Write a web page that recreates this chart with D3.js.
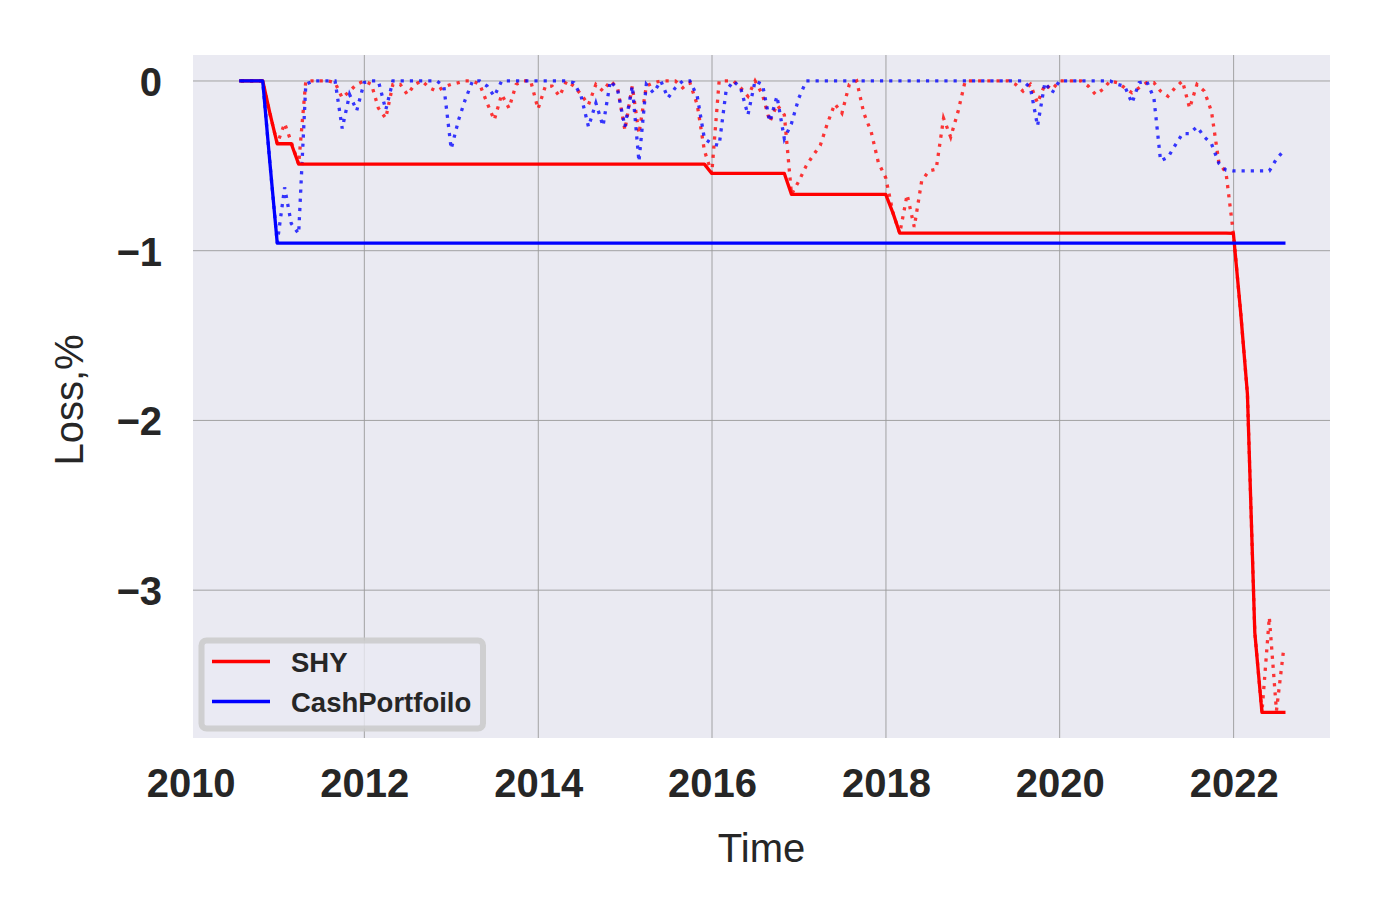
<!DOCTYPE html>
<html>
<head>
<meta charset="utf-8">
<script src="https://cdn.jsdelivr.net/npm/d3@7"></script>
<style>
  html, body { margin: 0; padding: 0; background: #ffffff; }
  svg { display: block; }
</style>
</head>
<body>
<svg id="chart" width="1385" height="920"></svg>
<script>
// ---- data ----
const firstMonth = "2010-07";   // month-end observations
const lastMonth = "2022-07";
const seriesNames = ["SHY", "CashPortfoilo"];
const xTickYears = [2010, 2012, 2014, 2016, 2018, 2020, 2022];
const yTickValues = [0, -1, -2, -3];
const yTickLabels = ["0", "\u22121", "\u22122", "\u22123"];

// SHY drawdown (dotted), %
const shyDrawdown = [
  0, 0, 0, 0, -0.19, -0.37, -0.25, -0.36, -0.49, 0,
  0, 0, 0, -0.01, -0.10, -0.06, -0.02, 0, -0.02, -0.16,
  -0.22, -0.02, -0.02, -0.08, -0.02, 0, -0.04, -0.06, -0.035, -0.02,
  -0.01, 0, 0, -0.02, -0.13, -0.23, -0.08, -0.16, -0.02, 0,
  0, -0.165, -0.03, -0.03, -0.09, 0, -0.03, -0.08, -0.14, -0.02,
  -0.06, 0, -0.04, -0.29, -0.03, -0.31, -0.03, -0.01, 0, 0,
  0, -0.04, -0.01, -0.14, -0.41, -0.545, 0, 0, 0, -0.04,
  -0.09, 0, -0.08, -0.24, -0.14, -0.20, -0.668, -0.59, -0.50, -0.44,
  -0.38, -0.25, -0.135, -0.19, -0.02, 0, -0.19, -0.30, -0.48, -0.57,
  -0.78, -0.897, -0.67, -0.86, -0.59, -0.53, -0.52, -0.22, -0.33, -0.18,
  0, 0, 0, 0, 0, 0, 0, -0.02, -0.06, -0.02,
  -0.13, -0.02, -0.05, 0, 0, 0, 0, -0.03, -0.08, -0.05,
  0, -0.01, -0.04, -0.07, -0.04, -0.01, -0.01, -0.06, -0.09, -0.04,
  0, -0.16, -0.02, -0.06, -0.18, -0.48, -0.54, -0.898, -1.37, -1.843,
  -3.25, -3.72, -3.16, -3.71, -3.34
];
// SHY maximum drawdown (solid), %
const shyMaxDrawdown = [
  0, 0, 0, 0, -0.19, -0.37, -0.37, -0.37, -0.49, -0.49,
  -0.49, -0.49, -0.49, -0.49, -0.49, -0.49, -0.49, -0.49, -0.49, -0.49,
  -0.49, -0.49, -0.49, -0.49, -0.49, -0.49, -0.49, -0.49, -0.49, -0.49,
  -0.49, -0.49, -0.49, -0.49, -0.49, -0.49, -0.49, -0.49, -0.49, -0.49,
  -0.49, -0.49, -0.49, -0.49, -0.49, -0.49, -0.49, -0.49, -0.49, -0.49,
  -0.49, -0.49, -0.49, -0.49, -0.49, -0.49, -0.49, -0.49, -0.49, -0.49,
  -0.49, -0.49, -0.49, -0.49, -0.49, -0.545, -0.545, -0.545, -0.545, -0.545,
  -0.545, -0.545, -0.545, -0.545, -0.545, -0.545, -0.668, -0.668, -0.668, -0.668,
  -0.668, -0.668, -0.668, -0.668, -0.668, -0.668, -0.668, -0.668, -0.668, -0.668,
  -0.78, -0.897, -0.897, -0.897, -0.897, -0.897, -0.897, -0.897, -0.897, -0.897,
  -0.897, -0.897, -0.897, -0.897, -0.897, -0.897, -0.897, -0.897, -0.897, -0.897,
  -0.897, -0.897, -0.897, -0.897, -0.897, -0.897, -0.897, -0.897, -0.897, -0.897,
  -0.897, -0.897, -0.897, -0.897, -0.897, -0.897, -0.897, -0.897, -0.897, -0.897,
  -0.897, -0.897, -0.897, -0.897, -0.897, -0.897, -0.897, -0.898, -1.37, -1.843,
  -3.25, -3.72, -3.72, -3.72, -3.72
];
// CashPortfoilo drawdown (dotted), %
const cashDrawdown = [
  0, 0, 0, 0, -0.48, -0.955, -0.627, -0.84, -0.90, -0.02,
  0, 0, 0, 0, -0.28, -0.08, -0.175, -0.01, 0, 0,
  -0.17, 0, 0, 0, 0, 0, 0, 0, -0.03, -0.40,
  -0.23, -0.11, 0, 0, -0.03, -0.09, 0, 0, 0, 0,
  0, 0, 0, 0, 0, 0, -0.01, -0.09, -0.27, -0.13,
  -0.265, 0, -0.05, -0.27, -0.03, -0.475, -0.02, -0.07, 0, -0.10,
  -0.04, 0, 0, -0.09, -0.34, -0.37, -0.38, -0.06, 0, -0.04,
  -0.20, 0, -0.02, -0.24, -0.09, -0.34, -0.25, -0.10, 0, 0,
  0, 0, 0, 0, 0, 0, 0, 0, 0, 0,
  0, 0, 0, 0, 0, 0, 0, 0, 0, 0,
  0, 0, 0, 0, 0, 0, 0, 0, 0, -0.04,
  -0.265, -0.01, -0.07, 0, 0, 0, 0, 0, 0, 0,
  0, -0.02, -0.03, -0.13, -0.01, 0, -0.10, -0.47, -0.45, -0.38,
  -0.31, -0.31, -0.27, -0.33, -0.37, -0.485, -0.525, -0.53, -0.53, -0.53,
  -0.53, -0.53, -0.53, -0.46, -0.41
];
// CashPortfoilo maximum drawdown (solid), %
const cashMaxDrawdown = [
  0, 0, 0, 0, -0.48, -0.955, -0.955, -0.955, -0.955, -0.955,
  -0.955, -0.955, -0.955, -0.955, -0.955, -0.955, -0.955, -0.955, -0.955, -0.955,
  -0.955, -0.955, -0.955, -0.955, -0.955, -0.955, -0.955, -0.955, -0.955, -0.955,
  -0.955, -0.955, -0.955, -0.955, -0.955, -0.955, -0.955, -0.955, -0.955, -0.955,
  -0.955, -0.955, -0.955, -0.955, -0.955, -0.955, -0.955, -0.955, -0.955, -0.955,
  -0.955, -0.955, -0.955, -0.955, -0.955, -0.955, -0.955, -0.955, -0.955, -0.955,
  -0.955, -0.955, -0.955, -0.955, -0.955, -0.955, -0.955, -0.955, -0.955, -0.955,
  -0.955, -0.955, -0.955, -0.955, -0.955, -0.955, -0.955, -0.955, -0.955, -0.955,
  -0.955, -0.955, -0.955, -0.955, -0.955, -0.955, -0.955, -0.955, -0.955, -0.955,
  -0.955, -0.955, -0.955, -0.955, -0.955, -0.955, -0.955, -0.955, -0.955, -0.955,
  -0.955, -0.955, -0.955, -0.955, -0.955, -0.955, -0.955, -0.955, -0.955, -0.955,
  -0.955, -0.955, -0.955, -0.955, -0.955, -0.955, -0.955, -0.955, -0.955, -0.955,
  -0.955, -0.955, -0.955, -0.955, -0.955, -0.955, -0.955, -0.955, -0.955, -0.955,
  -0.955, -0.955, -0.955, -0.955, -0.955, -0.955, -0.955, -0.955, -0.955, -0.955,
  -0.955, -0.955, -0.955, -0.955, -0.955
];
const seriesColors = ["#ff0000", "#0000ff"];

// ---- layout ----
const W = 1385, H = 920;
const plot = { left: 193, right: 1330, top: 55, bottom: 738 };
const FONT = "'Liberation Sans', Arial, Helvetica, sans-serif";
const TXT = "#262626";

const parseMonth = d3.utcParse("%Y-%m");
const monthStarts = d3.utcMonth.range(parseMonth(firstMonth), d3.utcMonth.offset(parseMonth(lastMonth), 1));
const dates = monthStarts.map(m => d3.utcDay.offset(d3.utcMonth.offset(m, 1), -1));

const x = d3.scaleUtc()
  .domain([new Date(Date.UTC(2010, 0, 11)), new Date(Date.UTC(2023, 1, 10))])
  .range([plot.left, plot.right]);
const y = d3.scaleLinear().domain([-3.871, 0.153]).range([plot.bottom, plot.top]);

const svg = d3.select("#chart");

// background
svg.append("rect").attr("x", 0).attr("y", 0).attr("width", W).attr("height", H).attr("fill", "#ffffff");
svg.append("rect")
  .attr("x", plot.left).attr("y", plot.top)
  .attr("width", plot.right - plot.left).attr("height", plot.bottom - plot.top)
  .attr("fill", "#eaeaf2");

const xTickDates = xTickYears.map(yr => new Date(Date.UTC(yr, 0, 1)));

// grid
const grid = svg.append("g");
grid.selectAll("line.gx")
  .data(xTickDates.filter(d => x(d) >= plot.left && x(d) <= plot.right))
  .join("line")
  .attr("x1", d => x(d)).attr("x2", d => x(d))
  .attr("y1", plot.top).attr("y2", plot.bottom)
  .attr("stroke", "#9a9a9a").attr("stroke-width", 0.9);
grid.selectAll("line.gy")
  .data(yTickValues)
  .join("line")
  .attr("x1", plot.left).attr("x2", plot.right)
  .attr("y1", d => y(d)).attr("y2", d => y(d))
  .attr("stroke", "#9a9a9a").attr("stroke-width", 0.9);

// axes (labels only, via d3 axis generators)
const xAxis = d3.axisBottom(x).tickValues(xTickDates).tickFormat(d3.utcFormat("%Y")).tickSize(0).tickPadding(0);
const gx = svg.append("g").attr("transform", `translate(0,${plot.bottom})`).call(xAxis);
gx.select(".domain").remove();
gx.selectAll("text")
  .attr("y", 59).attr("dy", null)
  .attr("font-family", FONT).attr("font-size", 40).attr("font-weight", "bold")
  .attr("fill", TXT);

const yAxis = d3.axisLeft(y).tickValues(yTickValues).tickFormat((d, i) => yTickLabels[i]).tickSize(0).tickPadding(0);
const gy = svg.append("g").attr("transform", `translate(${plot.left},0)`).call(yAxis);
gy.select(".domain").remove();
gy.selectAll("text")
  .attr("x", -31).attr("dy", "0.36em")
  .attr("font-family", FONT).attr("font-size", 40).attr("font-weight", "bold")
  .attr("fill", TXT);

// axis titles
svg.append("text")
  .attr("x", (plot.left + plot.right) / 2).attr("y", 862)
  .attr("text-anchor", "middle")
  .attr("font-family", FONT).attr("font-size", 40).attr("fill", TXT)
  .text("Time");
svg.append("text")
  .attr("transform", `translate(83,400) rotate(-90)`)
  .attr("text-anchor", "middle")
  .attr("font-family", FONT).attr("font-size", 40).attr("fill", TXT)
  .text("Loss,%");

// lines
const line = d3.line().x((d, i) => x(dates[i])).y(d => y(d));
const lines = svg.append("g");

function dotted(values, color) {
  lines.append("path")
    .datum(values)
    .attr("d", line)
    .attr("fill", "none")
    .attr("stroke", color)
    .attr("stroke-opacity", 0.78)
    .attr("stroke-width", 3.3)
    .attr("stroke-dasharray", "3.2,6")
    .attr("stroke-linecap", "butt");
}
function solid(values, color) {
  lines.append("path")
    .datum(values)
    .attr("d", line)
    .attr("fill", "none")
    .attr("stroke", color)
    .attr("stroke-width", 3.3)
    .attr("stroke-linejoin", "round")
    .attr("stroke-linecap", "square");
}
dotted(shyDrawdown, seriesColors[0]);
dotted(cashDrawdown, seriesColors[1]);
solid(shyMaxDrawdown, seriesColors[0]);
solid(cashMaxDrawdown, seriesColors[1]);

// legend
const lg = svg.append("g");
lg.append("rect")
  .attr("x", 201.5).attr("y", 640.5)
  .attr("width", 281.5).attr("height", 88)
  .attr("rx", 5).attr("ry", 5)
  .attr("fill", "#eaeaf2").attr("fill-opacity", 0.8)
  .attr("stroke", "#cacaca").attr("stroke-opacity", 0.85)
  .attr("stroke-width", 6);
const legendRows = [661.5, 701.5];
seriesNames.forEach((name, i) => {
  lg.append("line")
    .attr("x1", 212).attr("x2", 270)
    .attr("y1", legendRows[i]).attr("y2", legendRows[i])
    .attr("stroke", seriesColors[i]).attr("stroke-width", 3.3);
  lg.append("text")
    .attr("x", 291).attr("y", legendRows[i] + 10)
    .attr("font-family", FONT).attr("font-size", 27.5).attr("font-weight", "bold")
    .attr("fill", TXT)
    .text(name);
});
</script>
</body>
</html>
